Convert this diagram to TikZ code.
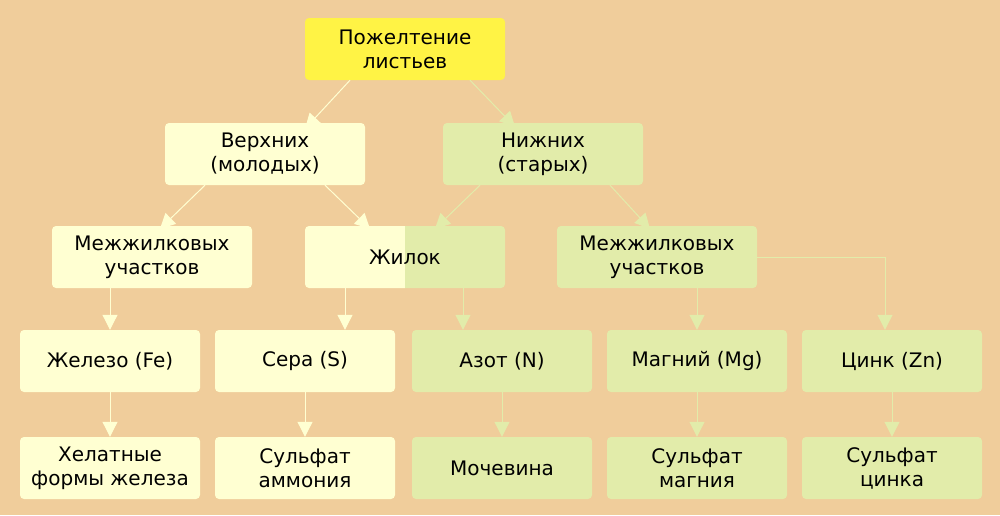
\documentclass[tikz,border=0pt]{standalone}
\usepackage{fontspec}
\setmainfont{DejaVu Sans}
\usetikzlibrary{arrows.meta,positioning}
\definecolor{bgtan}{HTML}{F0CD9B}
\definecolor{topyel}{HTML}{FFF345}
\definecolor{paleyel}{HTML}{FFFFD2}
\definecolor{palegrn}{HTML}{E2ECAA}
\tikzset{
  box/.style={minimum width=200pt, minimum height=62pt, align=center, inner sep=0pt,
    rounded corners=4pt, font=\fontsize{20}{24}\selectfont},
  sbox/.style={box, minimum width=180pt},
  yel/.style={fill=paleyel},
  grn/.style={fill=palegrn},
  arr/.style={line width=1pt, -{Triangle[width=15pt,length=15pt]}},
  arry/.style={arr, draw=paleyel},
  arrg/.style={arr, draw=palegrn}
}
\begin{document}
\begin{tikzpicture}[x=1pt,y=-1pt]
	\fill[bgtan] (0,0) rectangle (1000,515);
	\useasboundingbox (0,0) rectangle (1000,515);
	% row 1 and 2
	\node[box, fill=topyel] (top) at (405,49) {Пожелтение\\листьев};
	\node[box, yel] (upper) at (265,154) {Верхних\\(молодых)};
	\node[box, grn] (lower) at (543,154) {Нижних\\(старых)};
	% row 3
	\node[box, yel] (interL) at (152,257) {Межжилковых\\участков};
	\fill[paleyel] (405,226) [rounded corners=4pt] -- (305,226) -- (305,288) [sharp corners] -- (405,288) -- cycle;
	\fill[palegrn] (405,226) [rounded corners=4pt] -- (505,226) -- (505,288) [sharp corners] -- (405,288) -- cycle;
	\node[box] (vein) at (405,257) {Жилок};
	\node[box, grn] (interR) at (657,257) {Межжилковых\\участков};
	% row 4
	\node[sbox, yel] (fe) at (110,361) {Железо (Fe)};
	\node[sbox, yel] (s) at (305,361) {Сера (S)};
	\node[sbox, grn] (n) at (502,361) {Азот (N)};
	\node[sbox, grn] (mg) at (697,361) {Магний (Mg)};
	\node[sbox, grn] (zn) at (892,361) {Цинк (Zn)};
	% row 5
	\node[sbox, yel] (chel) at (110,468) {Хелатные\\формы железа};
	\node[sbox, yel] (amm) at (305,468) {Сульфат\\аммония};
	\node[sbox, grn] (urea) at (502,468) {Мочевина};
	\node[sbox, grn] (mgs) at (697,468) {Сульфат\\магния};
	\node[sbox, grn] (zns) at (892,468) {Сульфат\\цинка};
	% connectors
	\draw[arry] ([xshift=-55pt]top.south) -- ([xshift=40pt,yshift=-6pt]upper.north);
	\draw[arrg] ([xshift=65pt]top.south) -- ([xshift=-28pt,yshift=-4pt]lower.north);
	\draw[arry] ([xshift=-60pt]upper.south) -- ([xshift=8pt,yshift=-3pt]interL.north);
	\draw[arry] ([xshift=60pt]upper.south) -- ([xshift=-35pt,yshift=-3pt]vein.north);
	\draw[arrg] ([xshift=-63pt]lower.south) -- ([xshift=30pt,yshift=-3pt]vein.north);
	\draw[arrg] ([xshift=67pt]lower.south) -- ([xshift=-7pt,yshift=-3pt]interR.north);
	\draw[arry] (interL.south -| fe) -- (fe.north);
	\draw[arry] (vein.south -| 345,0) -- (s.north -| 345,0);
	\draw[arrg] (vein.south -| 463,0) -- (n.north -| 463,0);
	\draw[arrg] (interR.south -| mg) -- (mg.north);
	\draw[arrg] (interR.east) -| ([xshift=-7pt]zn.north);
	\foreach \a/\b/\c in {fe/chel/arry, s/amm/arry, n/urea/arrg, mg/mgs/arrg, zn/zns/arrg}
		\draw[\c] (\a.south -| \b.north) -- (\b.north);
\end{tikzpicture}
\end{document}
